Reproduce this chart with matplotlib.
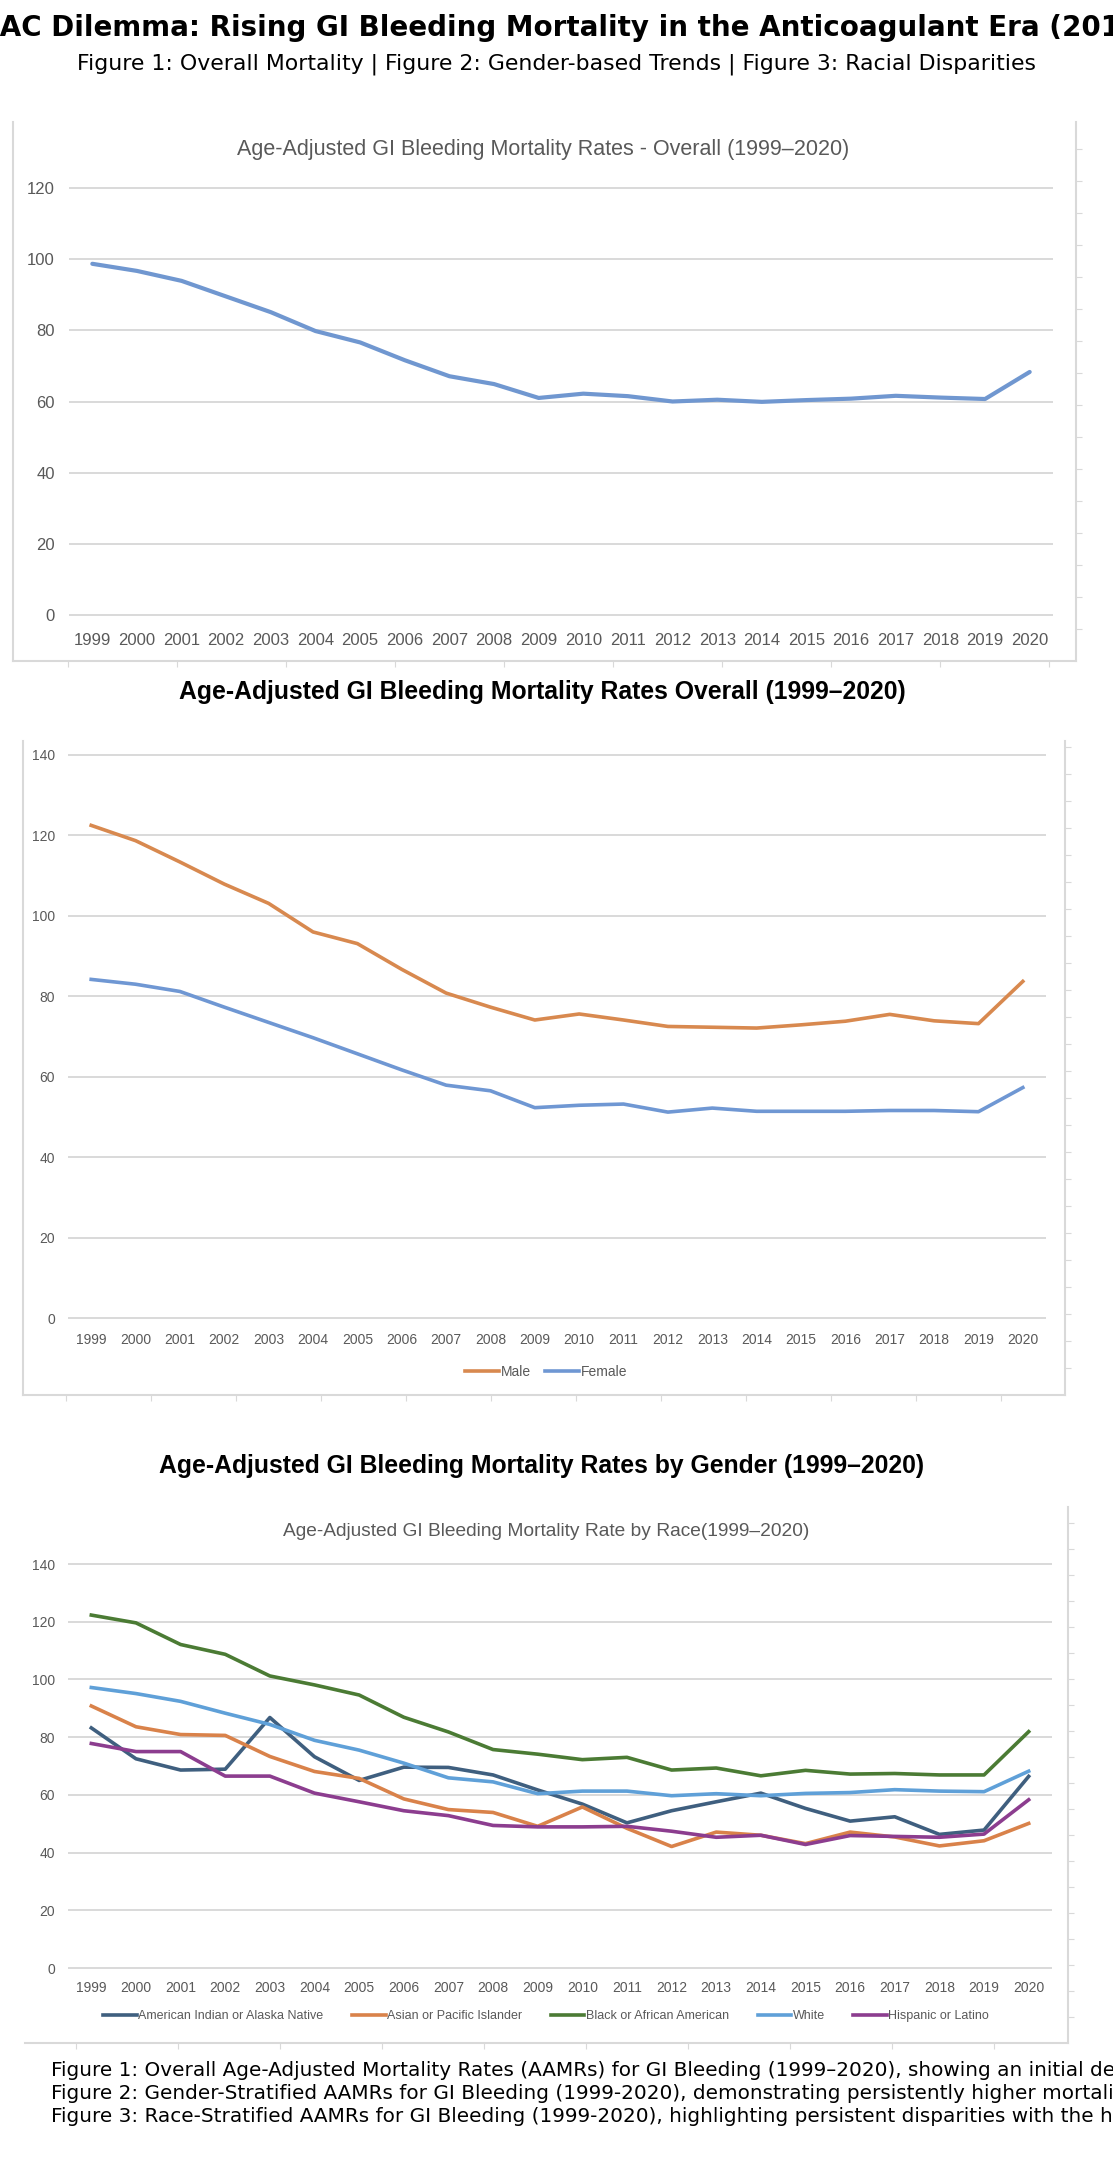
import matplotlib
matplotlib.use("Agg")
import matplotlib.pyplot as plt
import numpy as np

W, H = 1113, 2168

years = list(range(1999, 2021))

overall = [98.7, 96.7, 93.9, 89.5, 85.1, 79.8, 76.6, 71.6, 67.1, 64.9, 61.0,
           62.2, 61.5, 60.0, 60.5, 59.9, 60.4, 60.8, 61.6, 61.1, 60.7, 68.3]

male = [122.5, 118.7, 113.4, 107.9, 103.1, 96.0, 93.1, 86.7, 80.8, 77.3, 74.1,
        75.6, 74.1, 72.5, 72.3, 72.1, 72.9, 73.8, 75.5, 73.9, 73.2, 83.7]
female = [84.2, 83.0, 81.2, 77.3, 73.5, 69.7, 65.7, 61.7, 57.9, 56.5, 52.3,
          52.9, 53.2, 51.2, 52.2, 51.4, 51.4, 51.4, 51.6, 51.6, 51.3, 57.3]

race_names = ["American Indian or Alaska Native", "Asian or Pacific Islander",
              "Black or African American", "White", "Hispanic or Latino"]
aian = [83.2, 72.5, 68.6, 68.9, 86.8, 73.2, 65.0, 69.6, 69.5, 66.9, 61.7,
        56.8, 50.3, 54.5, 57.6, 60.6, 55.3, 50.9, 52.4, 46.3, 47.8, 66.4]
asian = [90.8, 83.6, 80.9, 80.6, 73.3, 68.1, 65.7, 58.6, 54.9, 53.9, 49.1,
         55.8, 48.4, 42.1, 47.1, 46.0, 43.1, 47.1, 45.4, 42.3, 44.1, 50.1]
black = [122.3, 119.6, 112.1, 108.7, 101.2, 98.1, 94.6, 86.9, 81.8, 75.7, 74.1,
         72.2, 73.0, 68.6, 69.3, 66.6, 68.5, 67.2, 67.4, 66.9, 66.9, 81.9]
white = [97.2, 95.1, 92.4, 88.3, 84.4, 78.9, 75.5, 71.0, 65.9, 64.5, 60.4,
         61.3, 61.3, 59.7, 60.4, 59.7, 60.5, 60.8, 61.8, 61.3, 61.1, 68.2]
hispanic = [77.8, 75.0, 75.0, 66.5, 66.5, 60.6, 57.6, 54.5, 52.8, 49.4, 48.9,
            48.9, 49.1, 47.4, 45.3, 46.0, 42.8, 45.9, 45.6, 45.3, 46.4, 58.3]
race_series = [aian, asian, black, white, hispanic]
race_colors = ["#3f5f7f", "#d9824a", "#4b7b34", "#5fa0d8", "#8c3d8f"]

main_title = "DOAC Dilemma: Rising GI Bleeding Mortality in the Anticoagulant Era (2010\u20132020)"
subtitle = "Figure 1: Overall Mortality | Figure 2: Gender-based Trends | Figure 3: Racial Disparities"
captions = [
    "Figure 1: Overall Age-Adjusted Mortality Rates (AAMRs) for GI Bleeding (1999\u20132020), showing an initial decline followed by a rise in 2020.",
    "Figure 2: Gender-Stratified AAMRs for GI Bleeding (1999-2020), demonstrating persistently higher mortality among males.",
    "Figure 3: Race-Stratified AAMRs for GI Bleeding (1999-2020), highlighting persistent disparities with the highest rates among Black individuals.",
]

GRID = "#d9d9d9"
LABEL = "#595959"
XL = ["Liberation Sans", "DejaVu Sans"]


def box(left, top, right, bottom):
    return [left / W, 1 - bottom / H, (right - left) / W, (bottom - top) / H]


def fy(y):
    return 1 - y / H


def frame(fig, left, top, right, bottom, sides, rtick, btick):
    ax = fig.add_axes(box(left, top, right, bottom), zorder=0)
    ax.patch.set_alpha(0)
    ax.set_xlim(0, right - left)
    ax.set_ylim(0, bottom - top)
    for name, sp in ax.spines.items():
        sp.set_visible(name in sides)
        sp.set_color(GRID)
        sp.set_linewidth(1.5)
    ax.yaxis.tick_right()
    ax.set_yticks(np.arange(rtick, bottom - top, rtick) if "right" in sides else [])
    ax.set_xticks(np.arange(btick / 2, right - left, btick))
    ax.tick_params(length=4, color=GRID, labelleft=False, labelright=False,
                   labelbottom=False, direction="out")
    return ax


def chart(fig, left, top, right, bottom, ymax, size, xpad, ypad):
    ax = fig.add_axes(box(left, top, right, bottom), zorder=1)
    ax.patch.set_alpha(0)
    ax.set_xlim(1998.5, 2020.5)
    ax.set_ylim(0, ymax)
    ax.set_xticks(years)
    ax.set_xticklabels([str(y) for y in years], fontfamily=XL)
    ax.set_yticks(range(0, ymax + 1, 20))
    ax.set_yticklabels([str(v) for v in range(0, ymax + 1, 20)], fontfamily=XL)
    ax.grid(axis="y", color=GRID, linewidth=1.4)
    for gl in ax.get_ygridlines():
        gl.set_clip_on(False)
    ax.set_axisbelow(True)
    for sp in ax.spines.values():
        sp.set_visible(False)
    ax.tick_params(length=0, labelcolor=LABEL, labelsize=size)
    ax.tick_params(axis="x", pad=xpad)
    ax.tick_params(axis="y", pad=ypad)
    return ax


fig = plt.figure(figsize=(W / 100, H / 100), dpi=100)

# header
renderer = fig.canvas.get_renderer()
probe = fig.text(0, 0, "DO", fontsize=20, fontweight="bold")
shift = probe.get_window_extent(renderer).width / W
probe.remove()
fig.text(-shift, fy(28), main_title, fontsize=20, fontweight="bold",
         ha="left", va="center")
fig.text(0.5, fy(64), subtitle, fontsize=15.8, ha="center", va="center")

# Figure 1
frame(fig, 13, 122, 1076, 661, ("left", "right", "bottom"), 32, 109)
ax1 = chart(fig, 70, 188, 1052, 615, 120, 12, 13, 11)
ax1.plot(years, overall, color="#7097d0", linewidth=3.0, solid_capstyle="round")
fig.text(543 / W, fy(150), "Age-Adjusted GI Bleeding Mortality Rates - Overall (1999\u20132020)",
         fontsize=15.5, color=LABEL, ha="center", va="center", fontfamily=XL)

# Figure 2
fig.text(542 / W, fy(692), "Age-Adjusted GI Bleeding Mortality Rates Overall (1999\u20132020)",
         fontsize=17.8, fontweight="bold", ha="center", va="center", fontfamily=XL)
frame(fig, 23, 741, 1065, 1395, ("left", "right", "bottom"), 27, 85)
ax2 = chart(fig, 69, 755, 1045, 1318, 140, 10, 11, 10)
ax2.plot(years, male, color="#d8894f", linewidth=2.6, label="Male")
ax2.plot(years, female, color="#6f97d3", linewidth=2.6, label="Female")
leg = ax2.legend(loc="center", bbox_to_anchor=(546 / W, fy(1372)), bbox_transform=fig.transFigure,
                 ncol=2, frameon=False, handlelength=2.5, handletextpad=0.1, columnspacing=1.0,
                 prop={"family": XL, "size": 10})
for t in leg.get_texts():
    t.set_color(LABEL)

# Figure 3
fig.text(542 / W, fy(1466), "Age-Adjusted GI Bleeding Mortality Rates by Gender (1999\u20132020)",
         fontsize=17.8, fontweight="bold", ha="center", va="center", fontfamily=XL)
frame(fig, 25, 1507, 1068, 2043, ("right", "bottom"), 26, 102)
ax3 = chart(fig, 69, 1564, 1051, 1968, 140, 10, 9, 10)
for name, vals, col in zip(race_names, race_series, race_colors):
    ax3.plot(years, vals, color=col, linewidth=2.6, label=name)
fig.text(546 / W, fy(1532), "Age-Adjusted GI Bleeding Mortality Rate by Race(1999\u20132020)",
         fontsize=13.8, color=LABEL, ha="center", va="center", fontfamily=XL)
leg = ax3.legend(loc="center", bbox_to_anchor=(546 / W, fy(2016)), bbox_transform=fig.transFigure,
                 ncol=5, frameon=False, handlelength=2.7, handletextpad=0.1, columnspacing=2.3,
                 prop={"family": XL, "size": 9})
for t in leg.get_texts():
    t.set_color(LABEL)

# captions
for i, line in enumerate(captions):
    fig.text(51 / W, fy(2070 + 23.5 * i), line, fontsize=14.4, ha="left", va="center")

fig.savefig("out.png", dpi=100)
